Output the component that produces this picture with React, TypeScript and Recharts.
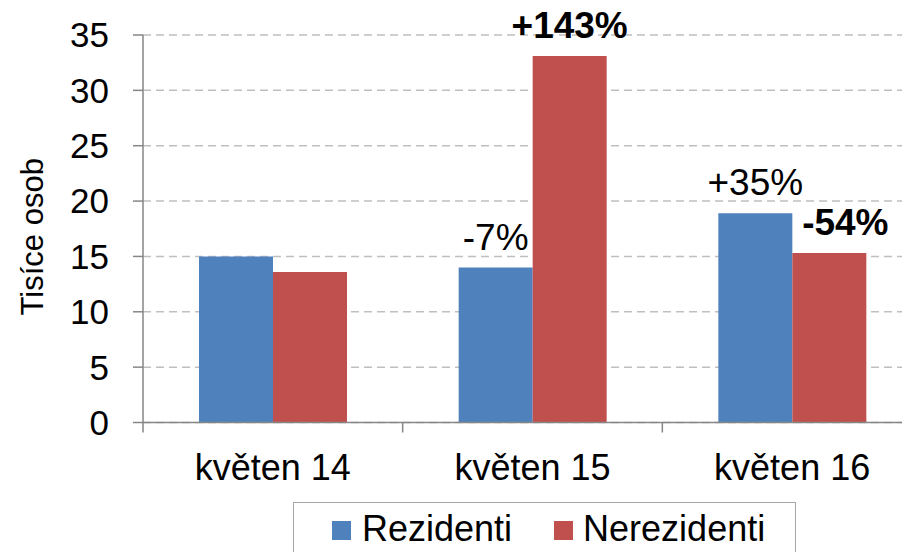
import { BarChart, Bar, XAxis, YAxis, CartesianGrid, Legend, LabelList } from "recharts";

const months = ["květen 14", "květen 15", "květen 16"];
const rezidenti = [15.0, 14.0, 18.9];
const nerezidenti = [13.6, 33.1, 15.3];
const rezChange = ["", "-7%", "+35%"];
const nerezChange = ["", "+143%", "-54%"];
const yTicks = [0, 5, 10, 15, 20, 25, 30, 35];

const data = months.map((m, i) => ({
  month: m,
  rez: rezidenti[i],
  nerez: nerezidenti[i],
  rezLbl: rezChange[i],
  nerezLbl: nerezChange[i],
}));

const FONT = "'Liberation Sans', Arial, sans-serif";
const BLUE = "#4F81BD";
const RED = "#C0504D";
const AXIS = "#868686";

const CHART_W = 930;
const CHART_H = 552;
const MARGIN = { top: 35, right: 8, left: 0, bottom: 69.5 };
const Y_AXIS_W = 143;
const PLOT_W = CHART_W - MARGIN.left - MARGIN.right - Y_AXIS_W;

const MonthTick = (props: any) => {
  const { x, y, payload } = props;
  const bw = PLOT_W / months.length;
  return (
    <g>
      <line x1={x - bw / 2} x2={x - bw / 2} y1={y} y2={y + 10} stroke={AXIS} strokeWidth={1.5} />
      <text x={x} y={y + 57} textAnchor="middle" fontSize={36} fontFamily={FONT} fill="#000">
        {payload.value}
      </text>
    </g>
  );
};

const changeLabel = (props: any, bold: boolean) => {
  const { x, y, width, value, index } = props;
  if (!value) return null;
  // the last bold label sits a bit to the right so it clears its neighbour
  const shift = bold && index === months.length - 1 ? 16 : 0;
  return (
    <text
      x={x + width / 2 + shift}
      y={y - 18}
      textAnchor="middle"
      fontSize={37}
      fontWeight={bold ? 700 : 400}
      fontFamily={FONT}
      fill="#000"
    >
      {value}
    </text>
  );
};

const AxisTitle = (props: any) => {
  const vb = props.viewBox;
  const cx = vb.x + 43;
  const cy = vb.y + vb.height / 2 + 8;
  return (
    <text
      transform={`translate(${cx}, ${cy}) rotate(-90)`}
      textAnchor="middle"
      fontSize={31}
      fontFamily={FONT}
      fill="#000"
    >
      Tisíce osob
    </text>
  );
};

const LegendBox = () => (
  <div
    style={{
      boxSizing: "border-box",
      width: 503,
      height: 70,
      border: "1.5px solid #a6a6a6",
      paddingLeft: 38,
      paddingTop: 8,
      display: "flex",
      alignItems: "flex-start",
      fontFamily: FONT,
      fontSize: 36,
      lineHeight: "36px",
      color: "#000",
      background: "#fff",
    }}
  >
    <span style={{ width: 19, height: 19, background: BLUE, marginTop: 10, marginRight: 11 }} />
    <span style={{ marginRight: 42 }}>Rezidenti</span>
    <span style={{ width: 19, height: 19, background: RED, marginTop: 10, marginRight: 10 }} />
    <span>Nerezidenti</span>
  </div>
);

export default function App() {
  return (
    <div
      style={{
        position: "absolute",
        left: 0,
        top: 0,
        width: 902,
        height: 552,
        overflow: "hidden",
        background: "#fff",
      }}
    >
      <BarChart width={CHART_W} height={CHART_H} data={data} margin={MARGIN} barGap={0} barSize={74}>
        <CartesianGrid vertical={false} stroke="#bfbfbf" strokeWidth={1.5} strokeDasharray="8 5" />
        <XAxis
          dataKey="month"
          height={60}
          axisLine={{ stroke: AXIS, strokeWidth: 1.5 }}
          tickLine={false}
          tickSize={0}
          tickMargin={0}
          tick={<MonthTick />}
          interval={0}
        />
        <YAxis
          width={Y_AXIS_W}
          domain={[0, 35]}
          ticks={yTicks}
          interval={0}
          axisLine={{ stroke: AXIS, strokeWidth: 1.5 }}
          tickLine={{ stroke: AXIS, strokeWidth: 1.5 }}
          tickSize={10}
          tickMargin={24}
          tick={{ fill: "#000", fontSize: 35, fontFamily: FONT }}
          label={(p: any) => <AxisTitle {...p} />}
        />
        <Legend
          verticalAlign="middle"
          align="center"
          layout="horizontal"
          content={<LegendBox />}
          wrapperStyle={{ top: 502, left: 293, width: 503, height: 70 }}
        />
        <Bar dataKey="rez" name="Rezidenti" fill={BLUE} isAnimationActive={false}>
          <LabelList dataKey="rezLbl" content={(p: any) => changeLabel(p, false)} />
        </Bar>
        <Bar dataKey="nerez" name="Nerezidenti" fill={RED} isAnimationActive={false}>
          <LabelList dataKey="nerezLbl" content={(p: any) => changeLabel(p, true)} />
        </Bar>
      </BarChart>
    </div>
  );
}
